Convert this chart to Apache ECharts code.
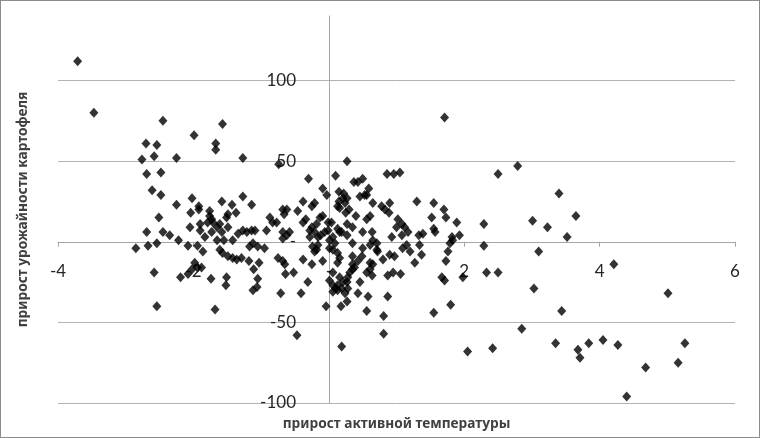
<!DOCTYPE html>
<html>
<head>
<meta charset="utf-8">
<script src="https://cdn.jsdelivr.net/npm/echarts@6/dist/echarts.min.js"></script>
<style>
  html, body { margin: 0; padding: 0; background: #fff; }
  #wrap { position: relative; width: 760px; height: 438px; }
  #chart { width: 760px; height: 438px; }
  #frame { position: absolute; left: 0; top: 0; width: 760px; height: 438px; box-sizing: border-box; border: 1px solid #8c8c8c; pointer-events: none; }
</style>
</head>
<body>
<div id="wrap"><div id="chart"></div><div id="frame"></div></div>
<script>
// Axis settings
const xTitle = 'прирост активной температуры';
const yTitle = 'прирост урожайности картофеля';
const xMin = -4, xMax = 6, xStep = 2;
const yMin = -100, yMax = 140, yStep = 50;

// Points [temperature increment, potato yield increment]
const pointsOuter = [
  [-3.71,112],[-3.47,80],[-2.45,75],[-2.70,61],[-2.54,60],[-2.58,53],[-2.76,51],[-2.25,52],[-1.99,66],[-1.67,61],
  [-1.67,57],[-2.69,42],[-2.48,43],[-2.61,32],[-2.48,29],[-2.02,27],[-1.57,73],[-1.27,52],[-0.74,48],[0.27,50],
  [-0.30,39],[0.10,41],[0.37,37],[0.43,37],[0.50,39],[-0.09,33],[-0.03,29],[0.15,31],[0.59,33],[0.46,28],
  [0.65,24],[-0.38,25],[-0.21,24],[-0.25,22],[0.15,25],[0.21,27],[0.16,21],[0.30,20],[-0.68,20],[-0.62,20],
  [-0.46,19],[-1.27,28],[-1.58,25],[-1.43,23],[-1.14,23],[-1.92,22],[-2.25,23],[-2.04,18],[-1.92,20],[-1.76,19],
  [-1.37,18],[-1.49,17],[-0.87,15],[-2.51,15],[1.71,77],[0.86,42],[0.96,42],[1.05,43],[2.50,42],[2.79,47],
  [3.40,30],[1.30,25],[1.55,24],[1.70,20],[0.90,24],[0.78,22],[0.83,20],[0.89,18],[3.65,16],[1.52,15],
  [1.73,15],[3.01,13],[3.23,9],[3.52,3],[2.29,11],[1.93,4],[2.29,-2.5],[3.10,-6],[4.21,-14],[2.33,-19],
  [2.50,-19],[1.98,-22],[3.03,-29],[5.01,-32],[-1.12,-30],[-0.71,-32],[-0.41,-32],[-0.04,-40],[0.06,-31],[0.13,-30],
  [0.24,-32],[0.27,-37],[0.18,-40],[0.43,-32],[0.58,-34],[0.56,-43],[0.87,-34],[0.81,-46],[0.81,-57],[-0.47,-58],
  [0.19,-65],[1.55,-44],[1.80,-39],[2.05,-68],[2.42,-66],[2.85,-54],[3.44,-43],[3.35,-63],[3.68,-67],[3.71,-72],
  [3.84,-63],[4.05,-61],[4.27,-64],[4.40,-96],[4.68,-78],[5.16,-75],[5.26,-63]
];
const pointsLeft = [
  [-1.51,15],[-1.73,14],[-1.79,12],[-1.71,12],[-1.65,9],[-1.73,6],[-2.05,9],[-1.90,7],[-1.83,3],[-2.69,6],
  [-2.45,6],[-2.35,4],[-2.22,1],[-2.54,-1],[-2.67,-2.5],[-2.85,-4],[-2.08,-2.5],[-1.94,-2.5],[-1.86,-6],[-1.65,1],
  [-1.55,1],[-1.34,5],[-1.61,-5],[-1.57,-7],[-1.49,-9],[-1.42,-10],[-1.36,-11],[-1.98,-13],[-2.02,-17],[-1.94,-16],
  [-1.88,-16],[-2.08,-20],[-2.19,-22],[-2.58,-19],[-1.74,-23],[-1.51,-22],[-1.52,-27],[-2.54,-40],[-1.68,-42],
  [-1.29,-10],[-1.18,-12],[-1.11,-17],[-1.05,-23],[-1.06,-28],[-0.95,-4],[-0.75,-10],[-0.68,-12],[-0.64,-20],[-0.52,-19],
  [-0.31,-25],[-0.38,-11],[-0.25,-14],[-0.09,-12],
  [-1.21,6],[-1.14,7],[-1.09,7],[-1.12,-1],[-1.05,-3],[-1.17,-3],[-0.92,7],[-0.83,12],[-0.77,12],[-0.68,6],
  [-0.62,4],[-0.68,2],[-0.58,6],[-0.38,12],[-0.34,14],[-0.28,7],[-0.21,6],[-0.16,3],[-0.24,-3],[-0.18,-5],
  [-0.12,4],[-0.06,6],[-0.01,7],[-1.90,11],[-1.76,16],[-1.61,11],[-1.49,9],[-1.58,6],[-1.42,1],
  [-0.66,17],[-0.13,15],[-0.09,16],[-0.01,12],[-0.18,11],[-0.25,9],[-1.27,7],[-1.03,-13],[-0.65,-14],[-0.16,-2],
  [-0.21,-6],[-0.28,3]
];
const pointsRight = [
  [0.13,-27],[0.28,-29],[0.06,-19],[0.16,-22],[0.21,-25],[0.35,-17],[0.31,-19],[0.28,-22],[0.43,-12],[0.35,-14],
  [0.61,-13],[0.71,-5],[0.65,1],[0.09,-1],[0.06,-5],[0.13,-7],[0.16,-10],[0.35,-9],[0.49,-9],
  [0.13,22],[0.04,12],[0.13,8],[0.27,4],[0.01,-24],[0.13,-13],[0.06,-27],[0.10,-29],[0.01,1],[0.06,3],[0.16,6],[0.01,-4],
  [0.56,29],[0.22,30],[0.53,29],[0.27,27],[0.24,24],[0.25,18],[0.40,16],[0.61,16],[0.56,14],[1.89,12],
  [1.55,8],[1.02,14],[1.08,11],[1.00,9],[1.12,9],[1.33,4],[1.39,5],[0.93,3],[1.08,4],[0.64,6],
  [0.50,6],[1.82,3],[0.27,11],[0.35,9],[0.19,6],[0.35,-1],[0.50,-4],[0.61,-2],[0.71,-1],[0.72,-6],
  [0.80,-11],[0.90,-8],[0.97,-9],[1.09,-4],[1.15,-2],[1.20,-6],[1.34,-2],[1.37,-8],[1.27,-13],[1.17,6],
  [1.57,6],[1.79,-1],[1.83,1],[1.76,-6],[1.73,-12],[0.38,-16],[0.65,-14],[0.61,-17],[0.56,-19],[0.27,-25],
  [0.64,-21],[0.46,-25],[0.87,-21],[0.95,-19],[1.06,-20],[1.67,-22],[1.71,-24],[0.19,-29]
];

const allPoints = pointsOuter.concat(pointsLeft, pointsRight);
const zeroDash = v => (v === 0 ? '-' : String(v));
const axisGray = '#a6a6a6';

const chart = echarts.init(document.getElementById('chart'), null, { renderer: 'canvas' });
chart.setOption({
  animation: false,
  backgroundColor: '#fff',
  grid: { left: 58, right: 25, top: 16, bottom: 35, containLabel: false, outerBoundsMode: 'none' },
  xAxis: {
    type: 'value', min: xMin, max: xMax, interval: xStep,
    axisLine: { onZero: true, lineStyle: { color: axisGray, width: 1 } },
    axisTick: { show: true, length: 5, lineStyle: { color: axisGray, width: 1 } },
    splitLine: { show: false },
    axisLabel: { fontFamily: 'Lato', fontSize: 17, color: '#262626', margin: -140, formatter: zeroDash },
    name: xTitle, nameLocation: 'middle', nameGap: 14,
    nameTextStyle: { fontFamily: 'Noto Sans', fontWeight: 'bold', fontSize: 13.7, color: '#404040' }
  },
  yAxis: {
    type: 'value', min: yMin, max: yMax, interval: yStep,
    axisLine: { onZero: true, lineStyle: { color: axisGray, width: 1 } },
    axisTick: { show: false },
    splitLine: { show: true, showMaxLine: false, lineStyle: { color: '#b3b3b3', width: 1 } },
    axisLabel: { fontFamily: 'Lato', fontSize: 17, color: '#262626', margin: -238, showMaxLabel: false, formatter: zeroDash },
    name: yTitle, nameLocation: 'middle', nameGap: 28,
    nameTextStyle: { fontFamily: 'Noto Sans', fontWeight: 'bold', fontSize: 13.7, color: '#404040' }
  },
  series: [{
    type: 'scatter',
    data: allPoints,
    symbol: 'diamond',
    symbolSize: [9, 10],
    itemStyle: { color: '#000' },
    z: 5,
    emphasis: { disabled: true }
  }]
});
</script>
</body>
</html>
